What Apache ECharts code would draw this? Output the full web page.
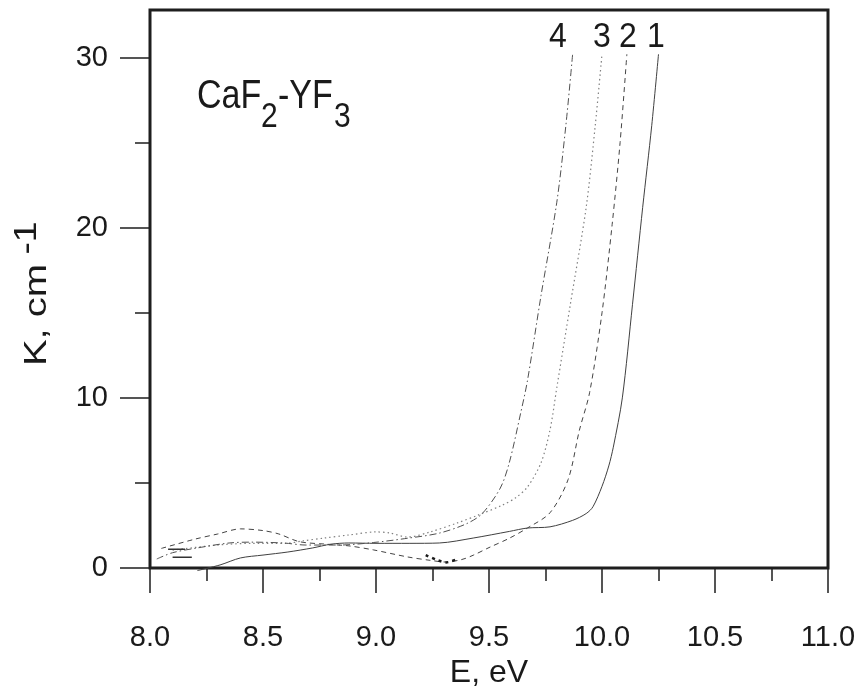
<!DOCTYPE html>
<html><head><meta charset="utf-8">
<script src="https://cdn.jsdelivr.net/npm/echarts@6/dist/echarts.min.js"></script>
<style>html,body{margin:0;padding:0;background:#fff}#c{width:865px;height:691px}</style>
</head><body><div id="c"></div><script>
// ---- data (E in eV, K in cm^-1) ----
const xMajorTicks = [8.0, 8.5, 9.0, 9.5, 10.0, 10.5, 11.0];
const yMajorTicks = [0, 10, 20, 30];
const yMinorTicks = [5, 15, 25];
const curveLabels = ['4', '3', '2', '1'];

const curve1 = [[8.21,-0.15],[8.31,0.18],[8.40,0.59],[8.50,0.76],[8.61,0.94],[8.72,1.18],[8.80,1.40],[8.88,1.47],[9.00,1.45],[9.15,1.45],[9.28,1.47],[9.43,1.76],[9.59,2.15],[9.67,2.35],[9.77,2.42],[9.87,2.80],[9.93,3.20],[9.96,3.60],[10.00,4.80],[10.03,6.00],[10.05,7.10],[10.09,10.0],[10.135,15.5],[10.18,21.2],[10.22,26.0],[10.25,30.2]];
const curve2 = [[8.05,1.15],[8.20,1.70],[8.30,2.00],[8.40,2.30],[8.50,2.20],[8.57,2.00],[8.66,1.55],[8.78,1.40],[8.88,1.30],[8.99,1.06],[9.14,0.65],[9.24,0.45],[9.31,0.35],[9.38,0.50],[9.43,0.75],[9.50,1.20],[9.59,1.75],[9.67,2.35],[9.77,3.25],[9.85,5.20],[9.90,8.10],[9.945,10.3],[10.00,15.0],[10.045,20.2],[10.08,25.0],[10.11,30.2]];
const curve2Dark = [[9.22,0.76],[9.27,0.47],[9.31,0.33],[9.36,0.53]];
const curve3 = [[8.10,1.05],[8.30,1.35],[8.45,1.45],[8.60,1.45],[8.68,1.60],[8.77,1.76],[8.88,1.94],[9.00,2.12],[9.06,2.06],[9.14,1.82],[9.24,2.12],[9.36,2.65],[9.45,3.10],[9.56,3.70],[9.62,4.15],[9.67,4.76],[9.73,6.18],[9.77,8.12],[9.80,10.6],[9.86,15.5],[9.93,21.2],[9.97,26.0],[10.00,30.2]];
const curve4 = [[8.03,0.53],[8.10,0.90],[8.21,1.18],[8.35,1.47],[8.45,1.52],[8.59,1.47],[8.69,1.35],[8.84,1.35],[8.99,1.50],[9.14,1.75],[9.28,2.05],[9.40,2.60],[9.47,3.20],[9.55,4.70],[9.59,6.20],[9.64,9.10],[9.67,11.0],[9.73,16.0],[9.80,21.5],[9.84,26.0],[9.87,30.2]];
const startUpper = [[7.955,0.96],[7.995,0.97],[8.04,null],[8.08,1.10],[8.155,1.10]];
const startLower = [[7.955,0.43],[7.995,0.44],[8.04,null],[8.10,0.63],[8.185,0.63]];

const chart = echarts.init(document.getElementById('c'));
const txt = '#1a1a1a';
const ff = '"Liberation Sans", Arial, sans-serif';
function line(data, color, type, width, smooth) {
  return { type: 'line', data: data, showSymbol: false, symbol: 'none', smooth: smooth,
    clip: false, silent: true, connectNulls: false,
    lineStyle: { color: color, width: width, type: type } };
}
function label(text, x, y, size, sy) {
  return { type: 'text', x: x, y: y, scaleY: sy, style: { text: text, font: size + 'px ' + ff, fill: txt, align: 'left', verticalAlign: 'middle' } };
}
chart.setOption({
  animation: false,
  backgroundColor: '#fff',
  grid: { left: 150, right: 37, top: 10, bottom: 123, show: true, borderColor: '#1e1e1e', borderWidth: 3,
    backgroundColor: 'transparent', containLabel: false, outerBoundsMode: 'none' },
  xAxis: {
    type: 'value', min: 8, max: 11, interval: 0.5,
    name: 'E, eV', nameLocation: 'middle', nameGap: 80,
    nameTextStyle: { fontSize: 32, color: txt, fontFamily: ff },
    axisLine: { show: false },
    axisTick: { show: true, length: 25, lineStyle: { color: '#1e1e1e', width: 1.5 } },
    minorTick: { show: true, splitNumber: 2, length: 13, lineStyle: { color: '#1e1e1e', width: 1.5 } },
    splitLine: { show: false }, minorSplitLine: { show: false },
    axisLabel: { fontSize: 29, color: txt, fontFamily: ff, margin: 55,
      formatter: v => Number(v).toFixed(1), customValues: xMajorTicks, showMinLabel: true, showMaxLabel: true }
  },
  yAxis: [{
    type: 'value', min: 0, max: 32.8,
    axisLine: { show: false },
    axisTick: { show: true, length: 30, customValues: yMajorTicks, lineStyle: { color: '#1e1e1e', width: 1.5 } },
    splitLine: { show: false },
    axisLabel: { fontSize: 29, color: txt, fontFamily: ff, margin: 42, customValues: yMajorTicks }
  }, {
    type: 'value', min: 0, max: 32.8, position: 'left',
    axisLine: { show: false },
    axisTick: { show: true, length: 15, customValues: yMinorTicks, lineStyle: { color: '#1e1e1e', width: 1.5 } },
    splitLine: { show: false },
    axisLabel: { show: false }
  }],
  series: [
    line(curve1, '#404040', 'solid', 1, 0.3),
    line(curve2, '#444', [5, 4], 1, 0.3),
    line(curve2Dark, '#1a1a1a', [3, 4], 2.5, 0.3),
    line(curve3, '#808080', [1.5, 3], 1.2, 0.3),
    line(curve4, '#505050', [7, 3, 1.5, 3], 1, 0.3),
    line(startUpper, '#333', 'solid', 1.6, false),
    line(startLower, '#333', 'solid', 1.6, false)
  ],
  graphic: [
    { type: 'text', x: 558, y: 37, scaleY: 1.12, style: { text: curveLabels[0], font: '32px ' + ff, fill: txt, align: 'center', verticalAlign: 'middle' } },
    { type: 'text', x: 602, y: 37, scaleY: 1.12, style: { text: curveLabels[1], font: '32px ' + ff, fill: txt, align: 'center', verticalAlign: 'middle' } },
    { type: 'text', x: 628, y: 37, scaleY: 1.12, style: { text: curveLabels[2], font: '32px ' + ff, fill: txt, align: 'center', verticalAlign: 'middle' } },
    { type: 'text', x: 656, y: 37, scaleY: 1.12, style: { text: curveLabels[3], font: '32px ' + ff, fill: txt, align: 'center', verticalAlign: 'middle' } },
    label('CaF', 197, 97, 34, 1.18),
    label('2', 261, 117, 30, 1.18),
    label('-YF', 278, 97, 34, 1.18),
    label('3', 334, 117, 30, 1.18),
    { type: 'text', x: 37, y: 315, rotation: Math.PI / 2, scaleX: 1.25, style: { text: 'K, cm', font: '32px ' + ff, fill: txt, align: 'center', verticalAlign: 'middle' } },
    { type: 'text', x: 27, y: 238, rotation: Math.PI / 2, scaleX: 1.2, style: { text: '-1', font: '31px ' + ff, fill: txt, align: 'center', verticalAlign: 'middle' } }
  ]
});
</script></body></html>
